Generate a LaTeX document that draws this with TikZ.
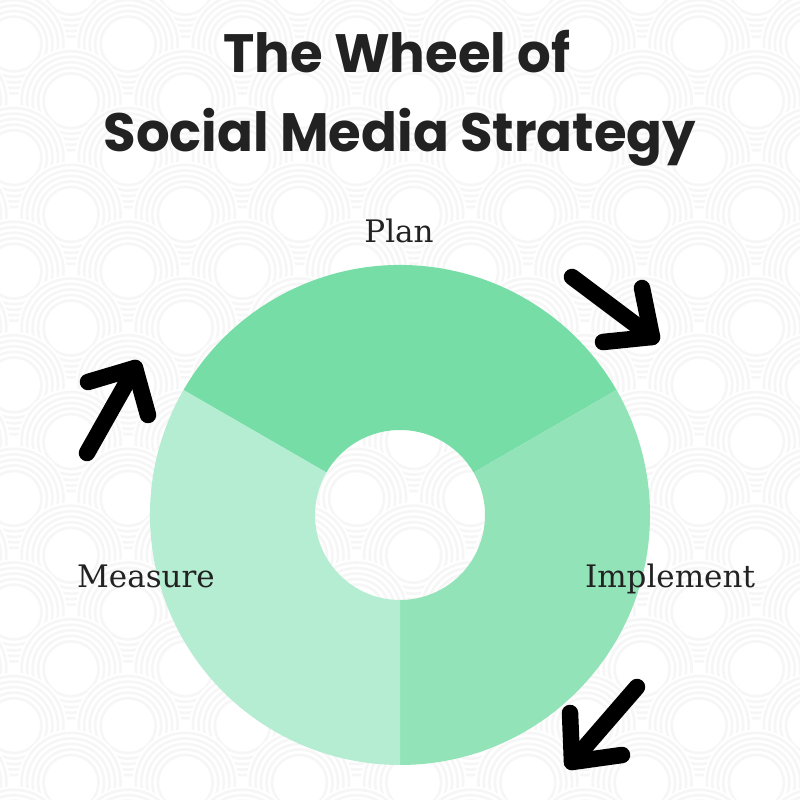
\documentclass[tikz,border=0pt]{standalone}
\usepackage{fontspec}
\setmainfont{DejaVu Serif}
\newfontfamily\titlefont{Poppins}
\definecolor{plancol}{RGB}{119,221,167}
\definecolor{implcol}{RGB}{146,228,184}
\definecolor{meascol}{RGB}{181,237,211}
\definecolor{ink}{RGB}{34,34,34}
\definecolor{ringcol}{RGB}{246,246,246}
\tikzset{
  ring/.style={draw=ringcol, line width=2.6pt},
  scalefill/.style={fill=white},
  titletext/.style={font=\titlefont\bfseries\fontsize{54}{60}\selectfont, text=ink, inner sep=0pt, xscale=0.98},
  lbl/.style={font=\fontsize{31}{36}\selectfont, text=ink, inner sep=0pt},
  arr/.style={draw=black, line width=16.5pt, line cap=round, line join=round},
}
\begin{document}
\begin{tikzpicture}[x=1pt,y=1pt]
\useasboundingbox (0,0) rectangle (800,800);
\begin{scope}
  \clip (0,0) rectangle (800,800);
  \fill[white] (0,0) rectangle (800,800);
  \foreach \j in {-1,...,14} {
    \foreach \i in {-1,...,14} {
      \pgfmathtruncatemacro\pp{mod(\i+\j+100,2)}
      \ifnum\pp=0
        \fill[scalefill] ({14+57.1*\i},{756-56.8*\j}) circle[radius=53];
        \foreach \r in {27.5,33,38.5,44,49.5}
          \draw[ring] ({14+57.1*\i},{756-56.8*\j}) circle[radius=\r];
      \fi
    }
  }
\end{scope}
% wheel
\begin{scope}[shift={(400,285)}]
  \fill[plancol] (30:250) arc[start angle=30,end angle=150,radius=250] -- (150:85) arc[start angle=150,end angle=30,radius=85] -- cycle;
  \fill[implcol] (-90:250) arc[start angle=-90,end angle=30,radius=250] -- (30:85) arc[start angle=30,end angle=-90,radius=85] -- cycle;
  \fill[meascol] (150:250) arc[start angle=150,end angle=270,radius=250] -- (270:85) arc[start angle=270,end angle=150,radius=85] -- cycle;
\end{scope}
% title
\node[titletext, anchor=base] (t1) at (397,727) {The Wheel of};
\node[titletext, anchor=base] (t2) at (400,648) {Social Media Strategy};
% labels
\node[lbl, anchor=base] (plan) at (399,557) {Plan};
\node[lbl, anchor=base] (measure) at (146,212) {Measure};
\node[lbl, anchor=base] (implement) at (670,212) {Implement};
% arrows
\coordinate (aTRs) at (572,523);
\coordinate (aTRt) at (652,463);
\coordinate (aTRh1) at (603,458);
\coordinate (aTRh2) at (642,512);
\draw[arr] (aTRs) -- (aTRt);
\draw[arr] (aTRh1) -- (aTRt) -- (aTRh2);
\coordinate (aLs) at (87,347);
\coordinate (aLt) at (135,432);
\coordinate (aLh1) at (88,418);
\coordinate (aLh2) at (148,385);
\draw[arr] (aLs) -- (aLt);
\draw[arr] (aLh1) -- (aLt) -- (aLh2);
\coordinate (aBs) at (637,113);
\coordinate (aBt) at (572,38);
\coordinate (aBh1) at (570,87);
\coordinate (aBh2) at (622,45);
\draw[arr] (aBs) -- (aBt);
\draw[arr] (aBh1) -- (aBt) -- (aBh2);
\end{tikzpicture}
\end{document}
